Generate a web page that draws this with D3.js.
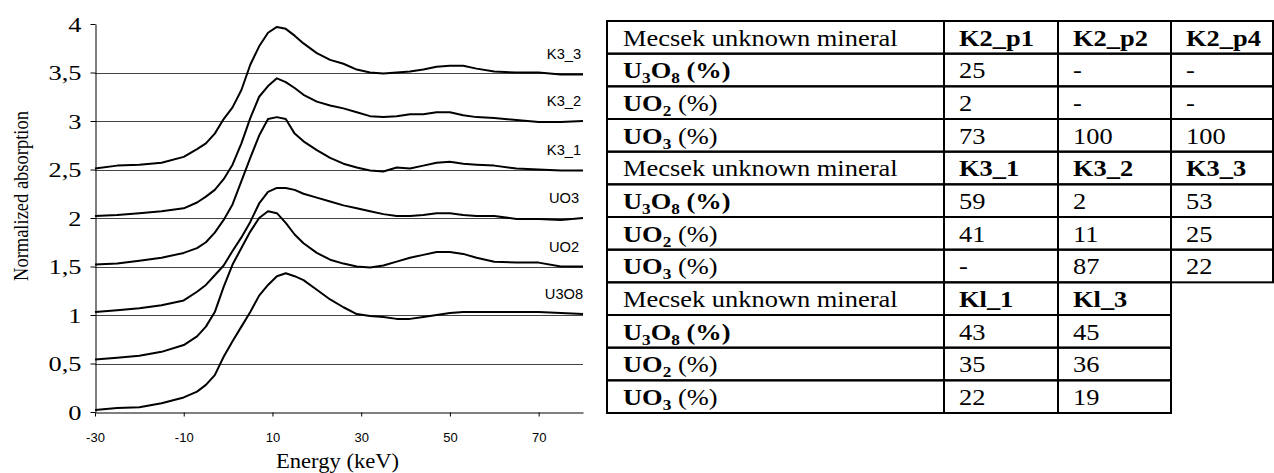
<!DOCTYPE html>
<html><head><meta charset="utf-8">
<script src="https://cdn.jsdelivr.net/npm/d3@7"></script>
<style>body{margin:0;background:#fff}svg{display:block}</style>
</head><body>
<svg id="c" width="1274" height="473"></svg>
<script>
// ---------- chart data ----------
const energy = [-30,-25,-20,-15,-10,-7,-5,-3,-1,1,3,5,7,9,11,13,15,17,20,23,26,29,32,35,38,41,44,47,50,53,56,60,65,70,75,80];
const seriesNames = ["U3O8","UO2","UO3","K3_1","K3_2","K3_3"];
const u3o8 = [0.02,0.04,0.05,0.09,0.15,0.21,0.28,0.38,0.57,0.73,0.88,1.03,1.20,1.31,1.40,1.43,1.40,1.36,1.26,1.16,1.08,1.01,0.99,0.98,0.96,0.96,0.98,1.00,1.02,1.03,1.03,1.03,1.03,1.03,1.02,1.01];
const uo2  = [0.54,0.56,0.58,0.62,0.69,0.78,0.88,1.03,1.29,1.52,1.69,1.86,2.00,2.07,2.05,1.95,1.83,1.74,1.64,1.57,1.53,1.50,1.49,1.51,1.55,1.59,1.62,1.65,1.65,1.63,1.59,1.55,1.54,1.54,1.50,1.50];
const uo3  = [1.03,1.05,1.07,1.10,1.15,1.24,1.31,1.41,1.51,1.66,1.80,1.96,2.15,2.27,2.31,2.31,2.29,2.25,2.21,2.17,2.13,2.10,2.07,2.04,2.02,2.02,2.03,2.05,2.05,2.03,2.02,2.02,1.99,1.99,1.98,2.00];
const k3_1 = [1.52,1.53,1.56,1.59,1.64,1.69,1.75,1.85,1.98,2.14,2.38,2.62,2.85,3.02,3.04,3.02,2.87,2.79,2.70,2.62,2.56,2.52,2.49,2.48,2.52,2.51,2.54,2.57,2.58,2.56,2.55,2.54,2.51,2.50,2.49,2.49];
const k3_2 = [2.02,2.03,2.05,2.07,2.10,2.16,2.22,2.29,2.40,2.55,2.77,3.03,3.25,3.36,3.44,3.40,3.34,3.27,3.20,3.16,3.13,3.09,3.05,3.04,3.05,3.07,3.07,3.09,3.09,3.06,3.04,3.03,3.01,2.99,2.99,3.00];
const k3_3 = [2.51,2.54,2.55,2.57,2.63,2.71,2.77,2.87,3.02,3.14,3.32,3.58,3.77,3.91,3.97,3.95,3.88,3.80,3.70,3.63,3.59,3.53,3.50,3.49,3.50,3.51,3.53,3.56,3.57,3.57,3.54,3.51,3.50,3.50,3.48,3.48];
const seriesValues = [u3o8, uo2, uo3, k3_1, k3_2, k3_3];
const xTicks = [-30,-10,10,30,50,70];
const xTickLabels = ["-30","-10","10","30","50","70"];
const yTicks = [0,0.5,1,1.5,2,2.5,3,3.5,4];
const yTickLabels = ["0","0,5","1","1,5","2","2,5","3","3,5","4"];
const xTitle = "Energy (keV)";
const yTitle = "Normalized absorption";

// ---------- table data ----------
const groupHeader = "Mecsek unknown mineral";
const sampleGroups = [["K2_p1","K2_p2","K2_p4"],["K3_1","K3_2","K3_3"],["Kl_1","Kl_3"]];
const u3o8Pct = [["25","-","-"],["59","2","53"],["43","45"]];
const uo2Pct  = [["2","-","-"],["41","11","25"],["35","36"]];
const uo3Pct  = [["73","100","100"],["-","87","22"],["22","19"]];

// ---------- drawing ----------
const svg = d3.select("#c");
const serif = "Liberation Serif";
const sans = "Liberation Sans";

const x = d3.scaleLinear().domain([-30,80]).range([95,583]);
const y = d3.scaleLinear().domain([0,4]).range([412,24]);

// gridlines
svg.append("g").selectAll("line").data(yTicks.filter(d => d > 0 && d < 4)).join("line")
  .attr("x1", x(-30)).attr("x2", x(80))
  .attr("y1", d => Math.round(y(d)) + 0.5).attr("y2", d => Math.round(y(d)) + 0.5)
  .attr("stroke", "#444").attr("stroke-width", 1);

// axes
const xAxis = svg.append("g").attr("transform", `translate(0,${Math.round(y(0))+0.5})`)
  .call(d3.axisBottom(x).tickValues(xTicks).tickFormat((d,i) => xTickLabels[i]).tickSize(4).tickSizeOuter(0));
xAxis.select(".domain").attr("stroke", "#000");
xAxis.selectAll("line").attr("stroke", "#000");
xAxis.selectAll("text").attr("y", 20).attr("dy", "0.71em")
  .attr("font-family", sans).attr("font-size", 13).attr("fill", "#000");

const yAxis = svg.append("g").attr("transform", `translate(${Math.round(x(-30))+0.5},0)`)
  .call(d3.axisLeft(y).tickValues(yTicks).tickFormat((d,i) => yTickLabels[i]).tickSize(5).tickSizeOuter(0));
yAxis.select(".domain").attr("stroke", "#000");
yAxis.selectAll("line").attr("stroke", "#000");
yAxis.selectAll("text").attr("dy", "0.34em")
  .attr("font-family", serif).attr("font-size", 22).attr("fill", "#000")
  .attr("transform", "scale(1.2,1)").attr("x", -14/1.2);

// curves
const line = d3.line().x((d,i) => x(energy[i])).y(d => y(d));
svg.append("g").selectAll("path").data(seriesValues).join("path")
  .attr("d", d => line(d)).attr("fill", "none")
  .attr("stroke", "#000").attr("stroke-width", 2).attr("stroke-linejoin", "round");

// curve labels
svg.append("g").selectAll("text").data(seriesNames).join("text")
  .attr("transform", (d,i) => `translate(564,${y(seriesValues[i][seriesValues[i].length-1]) - 15}) scale(1.05,1)`)
  .attr("text-anchor", "middle").attr("font-family", sans).attr("font-size", 14).attr("fill", "#000")
  .text(d => d);

// axis titles
svg.append("text").attr("transform", "translate(337.5,468) scale(1.13,1)")
  .attr("text-anchor", "middle").attr("font-family", serif).attr("font-size", 20).text(xTitle);
svg.append("text").attr("transform", "translate(28,196) rotate(-90) scale(1,1.15)")
  .attr("text-anchor", "middle").attr("font-family", serif).attr("font-size", 18.5).text(yTitle);

// ---------- table ----------
const colEdges = [607, 944, 1058, 1171, 1273];
const row = d3.scaleLinear().domain([0,12]).range([21,413]);
const tbl = svg.append("g");
const cells = [];
sampleGroups.forEach((samples, g) => {
  const rows = [
    {label: "head", vals: samples, bold: true},
    {label: "u3o8", vals: u3o8Pct[g]},
    {label: "uo2", vals: uo2Pct[g]},
    {label: "uo3", vals: uo3Pct[g]}
  ];
  rows.forEach((r, k) => {
    const ri = g*4 + k;
    for (let c = 0; c <= samples.length; c++) {
      cells.push({ri, c, label: c === 0 ? r.label : null, text: c === 0 ? null : r.vals[c-1], bold: !!r.bold});
    }
  });
});
tbl.selectAll("rect").data(cells).join("rect")
  .attr("x", d => colEdges[d.c]).attr("y", d => row(d.ri))
  .attr("width", d => colEdges[d.c+1] - colEdges[d.c]).attr("height", d => row(d.ri+1) - row(d.ri))
  .attr("fill", "none").attr("stroke", "#000").attr("stroke-width", 2);

const fs = 23, sub = 15;
cells.forEach(d => {
  const t = tbl.append("text")
    .attr("transform", `translate(${colEdges[d.c] + (d.c === 0 ? 16 : 15)},${row(d.ri) + 24.5}) scale(1.15,1)`)
    .attr("font-family", serif).attr("font-size", fs).attr("fill", "#000");
  if (d.c > 0) { t.attr("font-weight", d.bold ? "bold" : "normal").text(d.text); return; }
  if (d.label === "head") { t.text(groupHeader); return; }
  if (d.label === "u3o8") {
    t.attr("font-weight", "bold");
    t.append("tspan").text("U");
    t.append("tspan").attr("font-size", sub).attr("dy", 5).text("3");
    t.append("tspan").attr("dy", -5).text("O");
    t.append("tspan").attr("font-size", sub).attr("dy", 5).text("8");
    t.append("tspan").attr("dy", -5).text(" (%)");
  } else {
    const n = d.label === "uo2" ? "2" : "3";
    t.append("tspan").attr("font-weight", "bold").text("UO");
    t.append("tspan").attr("font-weight", "bold").attr("font-size", sub).attr("dy", 5).text(n);
    t.append("tspan").attr("dy", -5).text(" (%)");
  }
});
</script>
</body></html>
